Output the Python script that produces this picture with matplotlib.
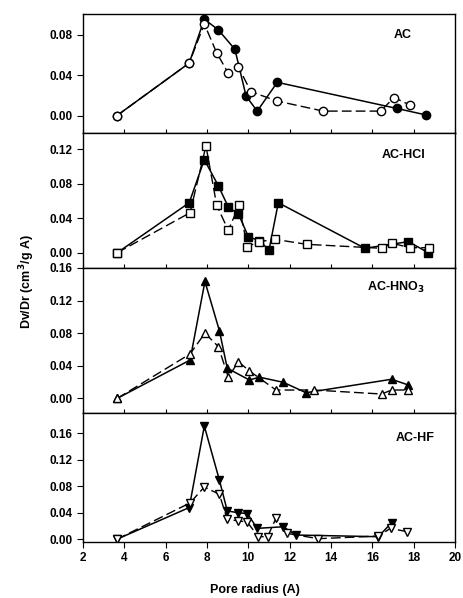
import numpy as np
import matplotlib
matplotlib.use("Agg")
import matplotlib.pyplot as plt

plt.rcParams["font.family"] = ["Liberation Sans", "DejaVu Sans"]
plt.rcParams["font.weight"] = "bold"

# AC
ac_open_x = [3.63, 7.14, 7.87, 8.47, 9.03, 9.52, 10.13, 11.40, 13.63, 16.40, 17.05, 17.82]
ac_open_y = [0.0, 0.052, 0.0906, 0.062, 0.042, 0.048, 0.0237, 0.0145, 0.0046, 0.0046, 0.018, 0.0106]
ac_fill_x = [3.63, 7.14, 7.87, 8.55, 9.35, 9.89, 10.43, 11.40, 17.17, 18.62]
ac_fill_y = [0.0, 0.052, 0.0953, 0.0847, 0.0656, 0.0195, 0.0046, 0.033, 0.0073, 0.0007]

# AC-HCl
hcl_open_x = [3.66, 7.18, 7.95, 8.47, 9.03, 9.55, 9.95, 10.53, 11.29, 12.82, 16.45, 16.96, 17.82, 18.75]
hcl_open_y = [0.0, 0.0464, 0.124, 0.055, 0.026, 0.055, 0.007, 0.0128, 0.0155, 0.0097, 0.0051, 0.0109, 0.0058, 0.0058]
hcl_fill_x = [3.66, 7.14, 7.87, 8.55, 9.03, 9.52, 10.0, 10.53, 11.0, 11.45, 15.64, 17.74, 18.71]
hcl_fill_y = [0.0, 0.058, 0.108, 0.0777, 0.053, 0.045, 0.0186, 0.014, 0.003, 0.058, 0.0051, 0.0128, 0.0]

# AC-HNO3
hno3_open_x = [3.66, 7.18, 7.90, 8.55, 9.03, 9.52, 10.03, 11.34, 13.18, 16.45, 16.93, 17.74]
hno3_open_y = [0.0, 0.0545, 0.080, 0.0635, 0.026, 0.045, 0.034, 0.0102, 0.0102, 0.0053, 0.0102, 0.0102]
hno3_fill_x = [3.66, 7.18, 7.90, 8.60, 8.98, 10.05, 10.53, 11.69, 12.79, 16.93, 17.74]
hno3_fill_y = [0.0, 0.047, 0.1435, 0.083, 0.037, 0.0225, 0.026, 0.0197, 0.0069, 0.0234, 0.0164]

# AC-HF
hf_open_x = [3.63, 7.18, 7.87, 8.60, 8.98, 9.52, 9.95, 10.48, 10.93, 11.34, 11.86, 13.39, 16.29, 16.88, 17.69]
hf_open_y = [0.0, 0.055, 0.079, 0.068, 0.030, 0.028, 0.026, 0.004, 0.004, 0.032, 0.009, 0.001, 0.005, 0.0166, 0.0115]
hf_fill_x = [3.63, 7.14, 7.87, 8.60, 8.98, 9.52, 9.95, 10.43, 11.69, 12.30, 16.29, 16.93]
hf_fill_y = [0.0, 0.048, 0.171, 0.0895, 0.043, 0.040, 0.039, 0.0166, 0.019, 0.0065, 0.004, 0.025]

panels = [
    ("AC", "o", ac_open_x, ac_open_y, ac_fill_x, ac_fill_y, (-0.017, 0.1004), [0, 0.04, 0.08], (17.48, 0.080)),
    ("AC-HCl", "s", hcl_open_x, hcl_open_y, hcl_fill_x, hcl_fill_y, (-0.0178, 0.139), [0, 0.04, 0.08, 0.12], (17.5, 0.113)),
    ("AC-HNO$_\\mathbf{3}$", "^", hno3_open_x, hno3_open_y, hno3_fill_x, hno3_fill_y, (-0.018, 0.16), [0, 0.04, 0.08, 0.12, 0.16], (17.14, 0.136)),
    ("AC-HF", "v", hf_open_x, hf_open_y, hf_fill_x, hf_fill_y, (-0.004, 0.1907), [0, 0.04, 0.08, 0.12, 0.16], (18.06, 0.153)),
]

# panel boxes in pixels (top, bottom)
W, H = 463, 598
boxes = [(14, 133), (133, 268), (268, 413), (413, 542)]
left, right = 83, 455

fig = plt.figure(figsize=(W / 100, H / 100), dpi=100)

for i, (name, mk, ox, oy, fx, fy, ylim, yt, lab) in enumerate(panels):
    top, bot = boxes[i]
    ax = fig.add_axes([left / W, (H - bot) / H, (right - left) / W, (bot - top) / H])
    ax.plot(fx, fy, "-", color="black", lw=1.1, marker=mk, ms=6,
            mfc="black", mec="black", zorder=2)
    ax.plot(ox, oy, color="black", lw=1.0, dashes=(7, 3), marker=mk, ms=6,
            mfc="white", mec="black", mew=1.0, zorder=3)
    ax.set_xlim(2, 20)
    ax.set_ylim(*ylim)
    ax.set_yticks(yt)
    ax.set_yticklabels([f"{v:.2f}" for v in yt], fontsize=8.5)
    ax.set_xticks(np.arange(2, 21, 2))
    ax.tick_params(direction="out", length=4, width=0.8)
    if i < 3:
        ax.tick_params(axis="x", labelbottom=False, direction="in", length=3)
    else:
        ax.set_xticklabels([str(v) for v in range(2, 21, 2)], fontsize=8.5)
    for s in ax.spines.values():
        s.set_linewidth(1.0)
    ax.text(lab[0], lab[1], name, ha="center", va="center", fontsize=9, fontweight="bold")

fig.text(27 / W, (H - 282) / H, "Dv/Dr (cm$^\\mathbf{3}$/g A)", rotation=90,
         ha="center", va="center", fontsize=9, fontweight="bold")
fig.text(255 / W, (H - 590) / H, "Pore radius (A)", ha="center", va="center",
         fontsize=9, fontweight="bold")

fig.savefig("out.png", dpi=100)
